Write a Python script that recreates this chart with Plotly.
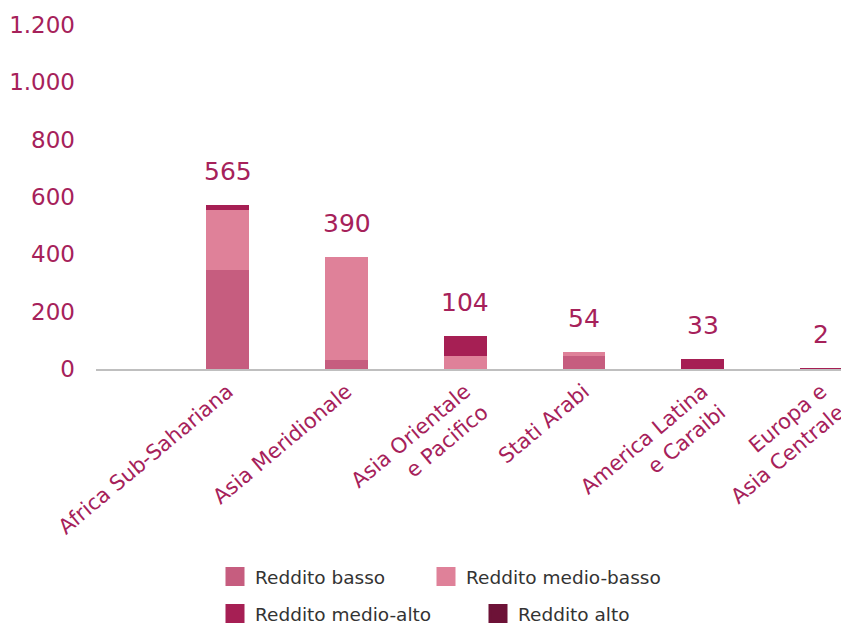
import plotly.graph_objects as go

# categories and values
categories = [
    "Africa Sub-Sahariana",
    "Asia Meridionale",
    "Asia Orientale<br>e Pacifico",
    "Stati Arabi",
    "America Latina<br>e Caraibi",
    "Europa e<br>Asia Centrale",
]
reddito_basso = [344, 32, 0, 46, 0, 0]
reddito_medio_basso = [209, 360, 46, 15, 0, 0]
reddito_medio_alto = [20, 0, 70, 0, 36, 2]
reddito_alto = [0, 0, 0, 0, 0, 0]
totals = [565, 390, 104, 54, 33, 2]

y_ticks = [0, 200, 400, 600, 800, 1000, 1200]
y_tick_text = ["0", "200", "400", "600", "800", "1.000", "1.200"]

FONT = "DejaVu Sans"
ACCENT = "#A6215A"
W, H = 841, 618  # page body has an 8px margin

series = [
    ("Reddito basso", reddito_basso, "#C65D7F"),
    ("Reddito medio-basso", reddito_medio_basso, "#DF8199"),
    ("Reddito medio-alto", reddito_medio_alto, "#A61F54"),
    ("Reddito alto", reddito_alto, "#6D1237"),
]
# legend slot for each series: (legend id, x px, y px) in figure pixels
legend_slots = [
    ("legend", 207, 569),
    ("legend2", 418, 569),
    ("legend3", 207, 606),
    ("legend4", 470, 606),
]

fig = go.Figure()

for (name, vals, color), (leg, _, _) in zip(series, legend_slots):
    fig.add_trace(
        go.Bar(
            x=categories,
            y=vals,
            name=name,
            marker=dict(color=color, line=dict(width=0)),
            width=0.36,
            showlegend=False,
        )
    )
    # legend proxy with a bigger square symbol
    fig.add_trace(
        go.Scatter(
            x=[None],
            y=[None],
            mode="markers",
            name=name,
            marker=dict(symbol="square", size=20, color=color, line=dict(color=color, width=3)),
            legend=leg,
        )
    )

# total labels above each bar
stack_tops = [a + b + c + d for a, b, c, d in zip(reddito_basso, reddito_medio_basso, reddito_medio_alto, reddito_alto)]
for cat, top, tot in zip(categories, stack_tops, totals):
    fig.add_annotation(
        x=cat,
        y=top,
        text=str(tot),
        showarrow=False,
        yanchor="bottom",
        yshift=17,
        font=dict(family=FONT, size=25, color=ACCENT),
    )

legend_common = dict(
    orientation="h",
    xref="container",
    yref="container",
    xanchor="left",
    yanchor="middle",
    bgcolor="rgba(0,0,0,0)",
    font=dict(family=FONT, size=18.5, color="#333333"),
)
layout_legends = {}
for leg, px, py in legend_slots:
    layout_legends[leg] = dict(legend_common, x=px / W, y=1 - py / H)

fig.update_layout(
    width=W,
    height=H,
    barmode="stack",
    plot_bgcolor="white",
    paper_bgcolor="white",
    margin=dict(l=88, r=0, t=17, b=257),
    font=dict(family=FONT, color=ACCENT),
    xaxis=dict(
        type="category",
        range=[-1.11, 5.165],
        showgrid=False,
        showline=True,
        linecolor="#BFBFBF",
        linewidth=2,
        ticks="",
        tickangle=-40,
        tickfont=dict(family=FONT, size=21, color=ACCENT),
    ),
    yaxis=dict(
        range=[0, 1200],
        tickvals=y_ticks,
        ticktext=y_tick_text,
        showgrid=False,
        zeroline=False,
        showline=False,
        ticklabelstandoff=20,
        tickfont=dict(family=FONT, size=23, color=ACCENT),
    ),
    **layout_legends,
)

fig.write_html("out.html")
